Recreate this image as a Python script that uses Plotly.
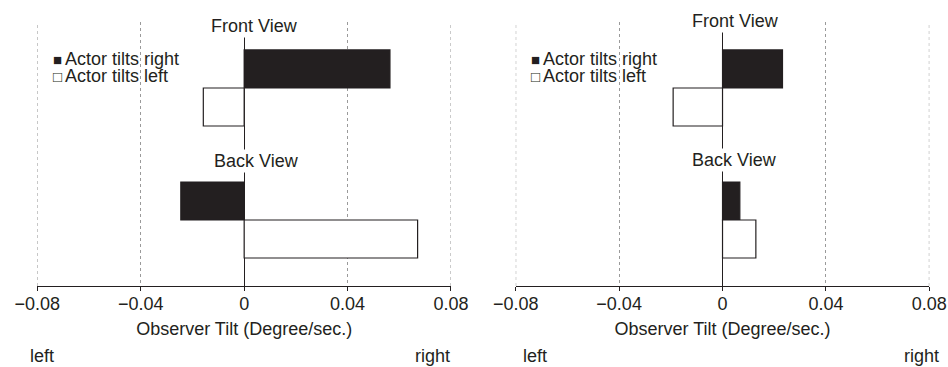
import plotly.graph_objects as go

views = ["Front View", "Back View"]
series_names = ["Actor tilts right", "Actor tilts left"]
# Observer tilt (degree/sec.)
left_panel_right = [0.0564, -0.0245]
left_panel_left = [-0.0158, 0.0671]
right_panel_right = [0.0232, 0.0067]
right_panel_left = [-0.0191, 0.0129]
tick_vals = [-0.08, -0.04, 0, 0.04, 0.08]
tick_text = ["\u22120.08", "\u22120.04", "0", "0.04", "0.08"]
axis_title = "Observer Tilt (Degree/sec.)"

INK = "#231f20"
GRID = "#9a9a9a"
FONT = "Liberation Sans, Arial, Helvetica, sans-serif"

fig = go.Figure()

panels = [("x", "y", left_panel_right, left_panel_left),
          ("x2", "y2", right_panel_right, right_panel_left)]
for xa, ya, vr, vl in panels:
    fig.add_trace(go.Bar(y=views, x=vr, orientation="h", name=series_names[0],
                         marker=dict(color=INK, line=dict(color=INK, width=1.2)),
                         xaxis=xa, yaxis=ya, showlegend=False))
    fig.add_trace(go.Bar(y=views, x=vl, orientation="h", name=series_names[1],
                         marker=dict(color="white", line=dict(color=INK, width=1.2)),
                         xaxis=xa, yaxis=ya, showlegend=False))

xcommon = dict(range=[tick_vals[0], tick_vals[-1]], tickvals=tick_vals, ticktext=tick_text,
               showline=True, linecolor=INK, linewidth=1.2,
               ticks="outside", ticklen=4, tickcolor=INK, tickwidth=1.2,
               showgrid=True, gridcolor=GRID, griddash="dot", gridwidth=1,
               zeroline=True, zerolinecolor=INK, zerolinewidth=1.2,
               tickfont=dict(size=18, color=INK, family=FONT),
               ticklabelstandoff=-3,
               title=dict(text=axis_title, font=dict(size=18, color=INK, family=FONT), standoff=9),
               automargin=False, fixedrange=True)
ycommon = dict(autorange="reversed", showticklabels=False, showgrid=False,
               zeroline=False, showline=False, ticks="", domain=[0.2207, 0.9401],
               automargin=False, fixedrange=True)

fig.update_layout(
    width=948, height=367,
    margin=dict(l=0, r=0, t=0, b=0, pad=0),
    paper_bgcolor="white", plot_bgcolor="white",
    barmode="group", bargap=0.424, bargroupgap=0,
    font=dict(family=FONT, size=18, color=INK),
    xaxis=dict(domain=[0.0394, 0.4757], anchor="y", **xcommon),
    xaxis2=dict(domain=[0.544, 0.9803], anchor="y2", **xcommon),
    yaxis=dict(anchor="x", **ycommon),
    yaxis2=dict(anchor="x2", **ycommon),
)

# edge grid lines (plotly drops grid lines that sit on the range ends)
shapes = []
for xa, ya in [("x", "y"), ("x2", "y2")]:
    for v in (tick_vals[0], tick_vals[-1]):
        shapes.append(dict(type="line", xref=xa, yref=ya + " domain", x0=v, x1=v, y0=0, y1=1,
                           line=dict(color=GRID, width=1, dash="dot"), layer="below"))
fig.update_layout(shapes=shapes)

ann = []
# view labels
for xa, ya, fx, fy, bx, by in [("x", "y", 0.0041, 0.985, 0.0049, 0.4735),
                               ("x2", "y2", 0.0052, 1.004, 0.0048, 0.477)]:
    ann.append(dict(x=fx, y=fy, xref=xa, yref=ya + " domain", text=views[0],
                    showarrow=False, bgcolor="white", xanchor="center", yanchor="middle",
                    font=dict(size=18, color=INK)))
    ann.append(dict(x=bx, y=by, xref=xa, yref=ya + " domain", text=views[1],
                    showarrow=False, bgcolor="white", xanchor="center", yanchor="middle",
                    font=dict(size=18, color=INK)))
# legends
for xa, ya, lx in [("x", "y", 0.033), ("x2", "y2", 0.032)]:
    ann.append(dict(x=lx, y=0.860, xref=xa + " domain", yref=ya + " domain",
                    text="<span style='font-size:15px'>\u25A0\u2009</span>" + series_names[0],
                    showarrow=False, xanchor="left", yanchor="middle",
                    font=dict(size=18, color=INK)))
    ann.append(dict(x=lx, y=0.795, xref=xa + " domain", yref=ya + " domain",
                    text="<span style='font-size:15px'>\u25A1\u2009</span>" + series_names[1],
                    showarrow=False, xanchor="left", yanchor="middle",
                    font=dict(size=18, color=INK)))
# left / right direction labels
for xa, lx, rx in [("x", -0.0225, 1.002), ("x2", 0.012, 1.0276)]:
    ann.append(dict(x=lx, y=0.03, xref=xa + " domain", yref="paper", text="left",
                    showarrow=False, xanchor="left", yanchor="middle",
                    font=dict(size=18, color=INK)))
    ann.append(dict(x=rx, y=0.03, xref=xa + " domain", yref="paper", text="right",
                    showarrow=False, xanchor="right", yanchor="middle",
                    font=dict(size=18, color=INK)))
fig.update_layout(annotations=ann)

# the page's default 8px body margin would push the 948x367 figure out of the window
fig.write_html("out.html",
               config={"displayModeBar": False},
               post_script="document.body.style.margin='0';document.body.style.overflow='hidden';")
